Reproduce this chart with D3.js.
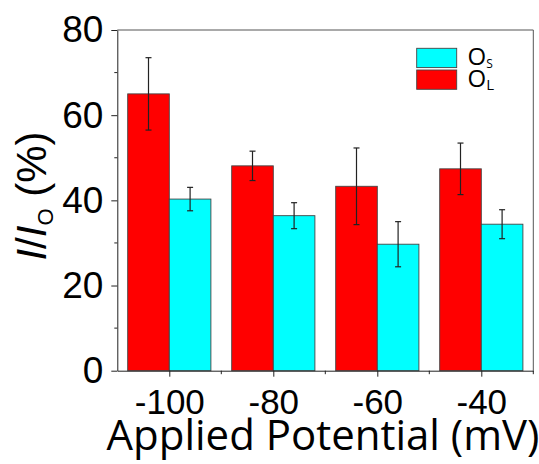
<!DOCTYPE html>
<html>
<head>
<meta charset="utf-8">
<script src="https://cdn.jsdelivr.net/npm/d3@7"></script>
<style>
  html, body { margin: 0; padding: 0; background: #fff; }
  svg { display: block; }
</style>
</head>
<body>
<svg id="chart" width="539" height="464"></svg>
<script>
// ---- data ----
const categories = [-100, -80, -60, -40];
const osValues = [40.3, 36.4, 29.7, 34.4];
const osErrors = [2.75, 3.05, 5.3, 3.4];
const olValues = [65.0, 48.1, 43.3, 47.4];
const olErrors = [8.5, 3.45, 9.0, 6.05];
const yTicks = [0, 20, 40, 60, 80];
const yMinorTicks = [10, 30, 50, 70];
const xTicks = [-100, -80, -60, -40];
const xMinorTicks = [-90, -70, -50, -30];
const seriesNames = ["S", "L"];

// ---- layout ----
const svg = d3.select("#chart");
const plotLeft = 117.3, plotRight = 533.3, plotTop = 30, plotBottom = 370.7;
const x = d3.scaleLinear().domain([-110, -30]).range([plotLeft, plotRight]);
const y = d3.scaleLinear().domain([0, 80]).range([plotBottom, plotTop]);
const barW = 8; // in mV units
const colors = { os: "#00ffff", ol: "#ff0000" };

// fit a text element's font size to a target width
function fitWidth(sel, target) {
  const w = sel.node().getBBox().width;
  if (w > 0) {
    const fs = parseFloat(sel.attr("font-size"));
    sel.attr("font-size", fs * target / w);
  }
}

// frame (top and right)
svg.append("line").attr("x1", plotLeft).attr("x2", plotRight).attr("y1", plotTop).attr("y2", plotTop)
  .attr("stroke", "#555").attr("stroke-width", 1);
svg.append("line").attr("x1", plotRight).attr("x2", plotRight).attr("y1", plotTop).attr("y2", plotBottom)
  .attr("stroke", "#555").attr("stroke-width", 1);

// bars
function drawSeries(values, errors, offset, color) {
  const g = svg.append("g");
  g.selectAll("rect").data(categories).join("rect")
    .attr("x", (d) => x(d + offset))
    .attr("width", (d) => x(d + offset + barW) - x(d + offset))
    .attr("y", (d, i) => y(values[i]))
    .attr("height", (d, i) => y(0) - y(values[i]))
    .attr("fill", color)
    .attr("stroke", "#444")
    .attr("stroke-width", 0.9);
  const eg = svg.append("g").attr("stroke", "#222").attr("stroke-width", 1.2);
  categories.forEach((c, i) => {
    const cx = x(c + offset + barW / 2);
    const y1 = y(values[i] + errors[i]), y2 = y(values[i] - errors[i]);
    eg.append("line").attr("x1", cx).attr("x2", cx).attr("y1", y1).attr("y2", y2);
    eg.append("line").attr("x1", cx - 3).attr("x2", cx + 3).attr("y1", y1).attr("y2", y1);
    eg.append("line").attr("x1", cx - 3).attr("x2", cx + 3).attr("y1", y2).attr("y2", y2);
  });
}
drawSeries(olValues, olErrors, -barW, colors.ol);
drawSeries(osValues, osErrors, 0, colors.os);

// y axis
const yAxis = svg.append("g").attr("transform", `translate(${plotLeft},0)`)
  .call(d3.axisLeft(y).tickValues(yTicks).tickSize(6).tickPadding(8).tickSizeOuter(0));
yAxis.selectAll("text").attr("font-family", "Liberation Sans, Arial, sans-serif")
  .attr("font-size", 37).attr("fill", "#000").attr("dy", "0.32em");
yAxis.select(".domain").attr("stroke", "#222");
yAxis.selectAll(".tick line").attr("stroke", "#222");
svg.append("g").selectAll("line").data(yMinorTicks).join("line")
  .attr("x1", plotLeft - 3).attr("x2", plotLeft).attr("y1", (d) => y(d)).attr("y2", (d) => y(d))
  .attr("stroke", "#222");

// x axis
const xAxis = svg.append("g").attr("transform", `translate(0,${plotBottom})`)
  .call(d3.axisBottom(x).tickValues(xTicks).tickSize(6).tickPadding(12).tickSizeOuter(0)
    .tickFormat((d) => String(d)));
xAxis.selectAll("text").attr("font-family", "Liberation Sans, Arial, sans-serif")
  .attr("font-size", 35).attr("fill", "#000").attr("dy", "0.71em");
xAxis.select(".domain").attr("stroke", "#222");
xAxis.selectAll(".tick line").attr("stroke", "#222");
svg.append("g").selectAll("line").data(xMinorTicks).join("line")
  .attr("x1", (d) => x(d)).attr("x2", (d) => x(d)).attr("y1", plotBottom).attr("y2", plotBottom + 3.5)
  .attr("stroke", "#222");

// x title
const xt = svg.append("text").attr("x", 323).attr("y", 450)
  .attr("text-anchor", "middle")
  .attr("font-family", "Open Sans, Lato, sans-serif").attr("font-size", 35)
  .attr("fill", "#000").text("Applied Potential (mV)");
fitWidth(xt, 433);

// y title
const yt = svg.append("text").attr("transform", "translate(46,196) rotate(-90)")
  .attr("text-anchor", "middle")
  .attr("font-family", "Liberation Sans, Arial, sans-serif").attr("font-size", 42)
  .attr("fill", "#000");
yt.append("tspan").attr("font-style", "italic").text("I");
yt.append("tspan").text("/");
yt.append("tspan").attr("font-style", "italic").text("I");
yt.append("tspan").attr("font-size", 22).attr("dy", 7).text("O");
yt.append("tspan").attr("dy", -7).text(" (%)");

// legend
const legend = svg.append("g");
const legendItems = [
  { color: colors.os, sub: seriesNames[0], y0: 48.3, subSize: 12 },
  { color: colors.ol, sub: seriesNames[1], y0: 70, subSize: 15 }
];
legendItems.forEach((it) => {
  legend.append("rect").attr("x", 416.7).attr("y", it.y0).attr("width", 40).attr("height", 19.3)
    .attr("fill", it.color).attr("stroke", "#444").attr("stroke-width", 0.9);
  const t = legend.append("text").attr("x", 467.5).attr("y", it.y0 + 16.8)
    .attr("font-family", "Open Sans, Lato, sans-serif").attr("font-size", 24).attr("fill", "#000");
  t.append("tspan").text("O");
  t.append("tspan").attr("font-size", it.subSize).attr("dy", 3).text(it.sub);
});
</script>
</body>
</html>
